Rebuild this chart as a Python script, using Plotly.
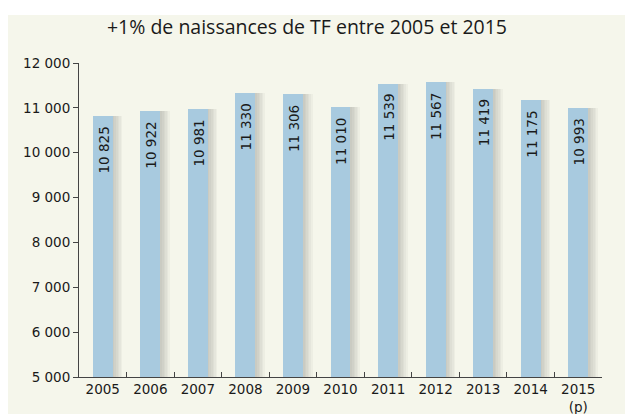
import plotly.graph_objects as go

years = ["2005", "2006", "2007", "2008", "2009", "2010", "2011", "2012", "2013", "2014", "2015"]
tick_labels = ["2005", "2006", "2007", "2008", "2009", "2010", "2011", "2012", "2013", "2014", "2015<br>(p)"]
births = [10825, 10922, 10981, 11330, 11306, 11010, 11539, 11567, 11419, 11175, 10993]
y_ticks = [5000, 6000, 7000, 8000, 9000, 10000, 11000, 12000]
y_tick_labels = ["5 000", "6 000", "7 000", "8 000", "9 000", "10 000", "11 000", "12 000"]
title = "+1% de naissances de TF entre 2005 et 2015"

BG = "#F5F6EB"
BAR = "#A8CADF"
AX = "#444444"
TXT = "#1a1a1a"
PX = 1 / 47.5  # one pixel in category units
BW = 0.42

fig = go.Figure()

# soft drop shadow to the right of the bars
for k in range(1, 7):
    fig.add_trace(go.Bar(
        x=years, y=births, width=BW, offset=-BW / 2 + k * 1.6 * PX,
        marker=dict(color="rgba(70,70,60,0.045)", line=dict(width=0)),
        hoverinfo="skip", showlegend=False,
    ))

fig.add_trace(go.Bar(
    x=years, y=births, width=BW, offset=-BW / 2,
    marker=dict(color=BAR, line=dict(width=0)), showlegend=False,
))

for i, v in enumerate(births):
    lbl = f"{v:,}".replace(",", " ")
    fig.add_annotation(
        x=i, y=v, xref="x", yref="y", text=lbl, showarrow=False, textangle=-90,
        xanchor="center", yanchor="middle", yshift=-34, xshift=1,
        font=dict(family="DejaVu Sans", size=13.5, color=TXT),
    )

fig.add_shape(type="rect", xref="paper", yref="paper",
              x0=-0.2, x1=1.2, y0=-0.3, y1=1.153,
              fillcolor=BG, line=dict(width=0), layer="below")

fig.update_layout(
    width=633, height=414,
    margin=dict(l=71, r=39, t=55, b=45, autoexpand=False),
    paper_bgcolor="white", plot_bgcolor=BG,
    barmode="overlay", bargap=0,
    title=dict(text=title, x=299 / 633, xanchor="center", y=1 - 19 / 414, yanchor="middle",
               font=dict(family="Open Sans", size=19.5, color=TXT)),
    font=dict(family="DejaVu Sans", size=13.5, color=TXT),
)
fig.update_xaxes(
    type="category", tickmode="array", tickvals=years, ticktext=tick_labels,
    tickson="boundaries", ticks="inside", ticklen=5, tickcolor=AX, tickwidth=1,
    showline=True, linecolor=AX, linewidth=1, showgrid=False, zeroline=False,
    range=[-0.5, 10.5], automargin=False, tickfont=dict(family="DejaVu Sans", size=13.5, color=TXT),
)
fig.update_yaxes(
    range=[5000, 12000], tickmode="array", tickvals=y_ticks, ticktext=y_tick_labels,
    ticks="outside", ticklen=5, tickcolor=AX, tickwidth=1,
    showline=True, linecolor=AX, linewidth=1, showgrid=False, zeroline=False,
    automargin=False, tickfont=dict(family="DejaVu Sans", size=13.5, color=TXT),
)

fig.write_html("out.html")
